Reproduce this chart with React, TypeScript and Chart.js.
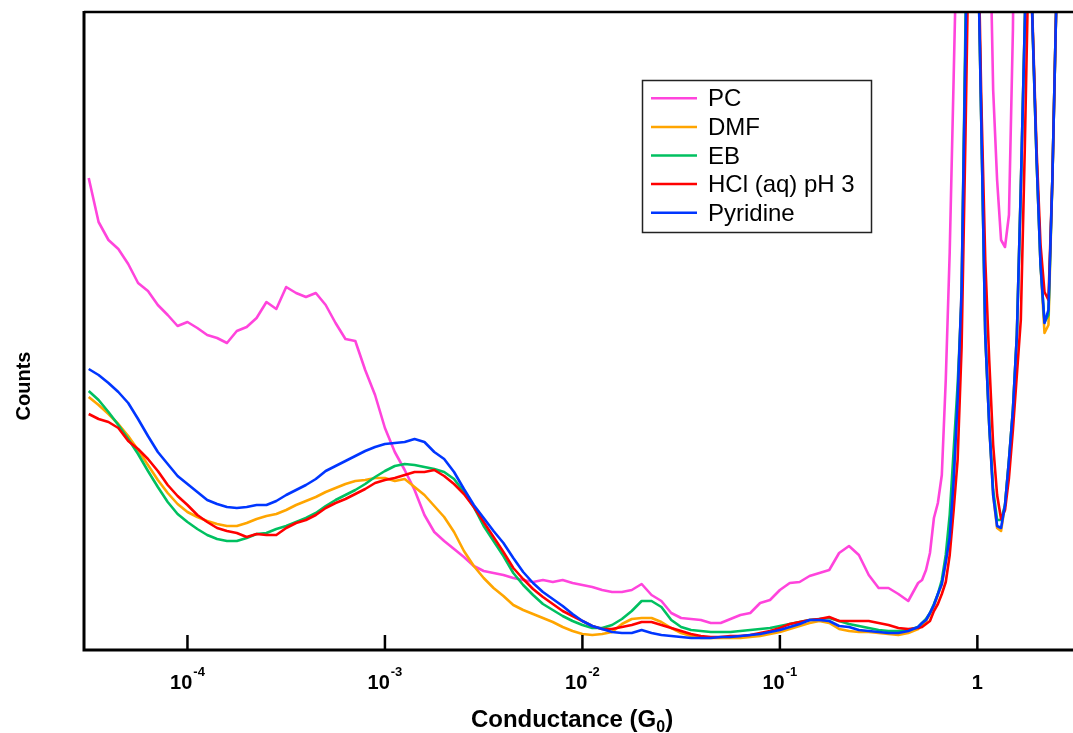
import React, { useEffect, useRef } from "react";
import { Chart, registerables } from "chart.js";

Chart.register(...registerables);

// Conductance (G0) sample positions
const conductance = [
  3.162e-5, 3.548e-5, 3.981e-5, 4.467e-5, 5.012e-5, 5.623e-5, 6.31e-5, 7.079e-5, 7.943e-5, 8.913e-5,
  1.0e-4, 1.122e-4, 1.259e-4, 1.413e-4, 1.585e-4, 1.778e-4, 1.995e-4, 2.239e-4, 2.512e-4, 2.818e-4,
  3.162e-4, 3.548e-4, 3.981e-4, 4.467e-4, 5.012e-4, 5.623e-4, 6.31e-4, 7.079e-4, 7.943e-4, 8.913e-4,
  1.0e-3, 1.122e-3, 1.259e-3, 1.413e-3, 1.585e-3, 1.778e-3, 1.995e-3, 2.239e-3, 2.512e-3, 2.818e-3,
  3.162e-3, 3.548e-3, 3.981e-3, 4.467e-3, 5.012e-3, 5.623e-3, 6.31e-3, 7.079e-3, 7.943e-3, 8.913e-3,
  1.0e-2, 1.122e-2, 1.259e-2, 1.413e-2, 1.585e-2, 1.778e-2, 1.995e-2, 2.239e-2, 2.512e-2, 2.818e-2,
  3.162e-2, 3.548e-2, 3.981e-2, 4.467e-2, 5.012e-2, 5.623e-2, 6.31e-2, 7.079e-2, 7.943e-2, 8.913e-2,
  0.1, 0.1122, 0.1259, 0.1413, 0.1585, 0.1778, 0.1995, 0.2239, 0.2512, 0.2818,
  0.3162, 0.3548, 0.3981, 0.4467, 0.5012,
  0.5248, 0.5495, 0.5754, 0.6026, 0.631, 0.6607, 0.6918, 0.7244, 0.7586, 0.7943,
  0.8318, 0.871, 0.912, 0.955, 1.0, 1.0471, 1.0965, 1.1482, 1.2023, 1.2589,
  1.3183, 1.3804, 1.4454, 1.5136, 1.5849, 1.6596, 1.7378, 1.8197, 1.9055, 1.9953,
  2.0893, 2.1878, 2.2909, 2.3988, 2.5119, 2.6303,
];

const pcCounts = [
  472, 428, 410, 401, 386, 367, 359, 345, 335, 324,
  328, 322, 315, 312, 307, 319, 323, 332, 348, 341,
  363, 357, 353, 357, 345, 327, 311, 309, 280, 255,
  222, 198, 180, 160, 135, 118, 109, 101, 93, 84,
  79, 77, 75, 72, 70, 68, 70, 68, 70, 67,
  65, 63, 60, 58, 58, 60, 66, 55, 49, 37,
  32, 31, 30, 27, 27, 31, 35, 37, 47, 50,
  60, 67, 68, 74, 77, 80, 97, 104, 95, 75,
  62, 62, 56, 49, 67,
  70, 80, 97, 132, 147, 175, 270, 398, 573, 750,
  930, 1100, 1250, 1300, 1250, 1100, 930, 760, 560, 470,
  410, 403, 435, 620, 1000, 1300, 1500, 1600, 1600, 1500,
  1400, 1300, 1300, 1400, 1500, 1600,
];

const dmfCounts = [
  253, 245, 236, 226, 214, 200, 185, 170, 157, 146,
  138, 133, 129, 126, 124, 124, 127, 131, 134, 136,
  140, 145, 149, 153, 158, 162, 166, 169, 170, 172,
  172, 169, 171, 163, 155, 144, 133, 118, 99, 84,
  72, 62, 54, 45, 40, 36, 32, 28, 23, 19,
  16, 15, 16, 18, 26, 31, 32, 32, 28, 22,
  17, 14, 12, 12, 12, 12, 12, 13, 14, 16,
  18, 21, 24, 27, 29, 27, 21, 19, 18, 18,
  17, 16, 15, 17, 21,
  25, 29, 36, 44, 55, 66, 88, 113, 170, 250,
  358, 605, 850, 1000, 734, 527, 315, 225, 155, 122,
  119, 145, 190, 240, 315, 462, 625, 800, 620, 490,
  385, 317, 325, 472, 650, 850,
];

const ebCounts = [
  259, 250, 238, 225, 211, 196, 179, 163, 148, 136,
  128, 121, 115, 111, 109, 109, 112, 116, 117, 121,
  124, 128, 132, 137, 144, 150, 155, 160, 166, 173,
  179, 184, 186, 185, 183, 181, 178, 171, 158, 143,
  124, 109, 94, 77, 65, 55, 46, 40, 34, 29,
  25, 22, 22, 25, 31, 39, 49, 49, 43, 30,
  23, 20, 19, 18, 18, 18, 19, 20, 21, 22,
  24, 26, 28, 30, 31, 32, 29, 26, 24, 22,
  20, 19, 19, 20, 23,
  27, 31, 37, 46, 56, 70, 95, 135, 200, 265,
  350, 630, 880, 1000, 734, 527, 315, 225, 160, 130,
  130, 145, 190, 240, 315, 462, 625, 800, 620, 490,
  385, 328, 335, 472, 650, 850,
];

const hclCounts = [
  236, 231, 228, 222, 209, 201, 191, 179, 165, 154,
  145, 135, 128, 122, 119, 117, 113, 116, 115, 115,
  122, 127, 130, 135, 142, 147, 151, 156, 161, 167,
  170, 172, 175, 178, 178, 180, 174, 166, 156, 143,
  128, 113, 98, 82, 71, 61, 53, 46, 39, 34,
  29, 24, 21, 21, 23, 25, 28, 28, 25, 22,
  19, 16, 14, 13, 13, 14, 14, 15, 17, 19,
  22, 26, 28, 30, 31, 33, 29, 29, 29, 29,
  27, 25, 22, 21, 22,
  23, 26, 29, 39, 46, 56, 68, 95, 140, 190,
  302, 516, 760, 1000, 760, 550, 390, 290, 205, 155,
  131, 140, 172, 220, 275, 330, 500, 700, 625, 500,
  405, 358, 350, 472, 650, 850,
];

const pyridineCounts = [
  281, 275, 267, 258, 247, 231, 214, 198, 186, 174,
  166, 158, 150, 146, 143, 142, 143, 145, 145, 149,
  155, 160, 165, 171, 179, 184, 189, 194, 199, 203,
  206, 207, 208, 211, 208, 198, 191, 178, 161, 145,
  132, 119, 107, 92, 78, 67, 58, 51, 44, 36,
  29, 24, 21, 18, 17, 17, 20, 17, 15, 14,
  13, 12, 12, 12, 13, 13, 14, 15, 16, 18,
  20, 23, 26, 30, 30, 29, 24, 23, 20, 19,
  18, 17, 17, 19, 23,
  27, 30, 37, 45, 56, 66, 88, 113, 170, 250,
  360, 608, 850, 1000, 734, 527, 315, 225, 155, 124,
  122, 145, 190, 240, 315, 462, 625, 800, 620, 490,
  385, 327, 340, 472, 650, 850,
];

const seriesNames = ["PC", "DMF", "EB", "HCl (aq) pH 3", "Pyridine"];
const seriesColors = ["#ff44dc", "#ffa500", "#00c060", "#ff0000", "#0036ff"];
const seriesValues = [pcCounts, dmfCounts, ebCounts, hclCounts, pyridineCounts];

const tickExponents = [-4, -3, -2, -1, 0];
const xAxisMin = 2.993e-5;
const xAxisMax = 3.05;
const yAxisMax = 638;
const xTitle = "Conductance (G";
const xTitleSub = "0";
const yTitle = "Counts";

const FONT = '"Liberation Sans", Arial, sans-serif';

const framePlugin = {
  id: "frame",
  afterDraw(chart: any) {
    const ctx = chart.ctx as CanvasRenderingContext2D;
    const { left, right, top, bottom } = chart.chartArea;
    const xs = chart.scales.x;
    ctx.save();
    ctx.strokeStyle = "#000";
    ctx.lineCap = "butt";
    ctx.lineWidth = 2.5;
    ctx.beginPath();
    ctx.moveTo(left, top);
    ctx.lineTo(right, top);
    ctx.stroke();
    ctx.lineWidth = 3;
    ctx.beginPath();
    ctx.moveTo(left, top - 1);
    ctx.lineTo(left, bottom);
    ctx.lineTo(right, bottom);
    ctx.stroke();

    ctx.fillStyle = "#000";
    tickExponents.forEach((e) => {
      const x = xs.getPixelForValue(Math.pow(10, e));
      ctx.lineWidth = 2.5;
      ctx.beginPath();
      ctx.moveTo(x, bottom - 15);
      ctx.lineTo(x, bottom);
      ctx.stroke();
      ctx.textBaseline = "alphabetic";
      ctx.textAlign = "left";
      if (e === 0) {
        ctx.font = `bold 20px ${FONT}`;
        const w = ctx.measureText("1").width;
        ctx.fillText("1", x - w / 2, bottom + 39);
      } else {
        ctx.font = `bold 20px ${FONT}`;
        const w1 = ctx.measureText("10").width;
        ctx.font = `bold 13px ${FONT}`;
        const sup = String(e);
        const w2 = ctx.measureText(sup).width;
        const x0 = x - (w1 + w2 + 1) / 2;
        ctx.font = `bold 20px ${FONT}`;
        ctx.fillText("10", x0, bottom + 39);
        ctx.font = `bold 13px ${FONT}`;
        ctx.fillText(sup, x0 + w1 + 1, bottom + 26);
      }
    });

    ctx.font = `bold 24px ${FONT}`;
    const wa = ctx.measureText(xTitle).width;
    const wc = ctx.measureText(")").width;
    ctx.font = `bold 16px ${FONT}`;
    const wb = ctx.measureText(xTitleSub).width;
    const tx = 572 - (wa + wb + wc) / 2;
    ctx.font = `bold 24px ${FONT}`;
    ctx.fillText(xTitle, tx, 727);
    ctx.fillText(")", tx + wa + wb, 727);
    ctx.font = `bold 16px ${FONT}`;
    ctx.fillText(xTitleSub, tx + wa, 732);

    ctx.save();
    ctx.translate(30, 386);
    ctx.rotate(-Math.PI / 2);
    ctx.textAlign = "center";
    ctx.font = `bold 20px ${FONT}`;
    ctx.fillText(yTitle, 0, 0);
    ctx.restore();

    ctx.fillStyle = "#fff";
    ctx.fillRect(642, 80, 229, 152);
    ctx.strokeStyle = "#222";
    ctx.lineWidth = 1.5;
    ctx.strokeRect(642.5, 80.5, 229, 152);
    seriesNames.forEach((name, i) => {
      const y = 98.3 + 28.6 * i;
      ctx.strokeStyle = seriesColors[i];
      ctx.lineWidth = 2.5;
      ctx.beginPath();
      ctx.moveTo(651, y);
      ctx.lineTo(697, y);
      ctx.stroke();
      ctx.fillStyle = "#000";
      ctx.font = `24px ${FONT}`;
      ctx.textAlign = "left";
      ctx.fillText(name, 708, y + 8);
    });
    ctx.restore();
  },
};

export default function App() {
  const ref = useRef<HTMLCanvasElement>(null);
  useEffect(() => {
    if (!ref.current) return;
    const datasets = seriesNames.map((name, k) => ({
      label: name,
      data: conductance.map((x, i) => ({ x, y: seriesValues[k][i] })),
      borderColor: seriesColors[k],
      backgroundColor: seriesColors[k],
      borderWidth: 2.6,
      pointRadius: 0,
      tension: 0,
      fill: false,
      borderJoinStyle: "round" as const,
      order: seriesNames.length - k,
    }));
    const chart = new Chart(ref.current, {
      type: "line",
      data: { datasets },
      options: {
        responsive: false,
        maintainAspectRatio: false,
        devicePixelRatio: 1,
        animation: false,
        layout: { padding: { left: 84, top: 12, right: 0, bottom: 83 } },
        plugins: { legend: { display: false }, tooltip: { enabled: false } },
        scales: {
          x: { type: "logarithmic", min: xAxisMin, max: xAxisMax, display: false },
          y: { type: "linear", min: 0, max: yAxisMax, display: false },
        },
      },
      plugins: [framePlugin],
    });
    return () => chart.destroy();
  }, []);
  return (
    <div style={{ position: "absolute", left: 0, top: 0, width: 1073, height: 733, background: "#fff" }}>
      <canvas ref={ref} width={1073} height={733} style={{ display: "block", width: 1073, height: 733 }} />
    </div>
  );
}
